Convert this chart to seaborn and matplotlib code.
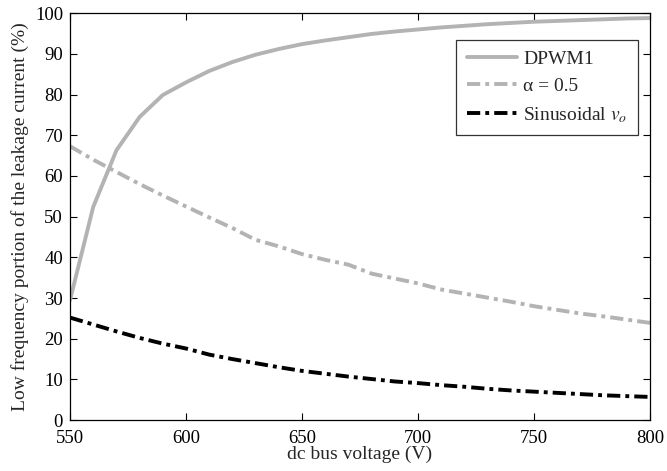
import matplotlib
matplotlib.use("Agg")
import matplotlib.pyplot as plt
import numpy as np
import seaborn as sns

# dc bus voltage samples (V)
voltage = [550, 560, 570, 580, 590, 600, 610, 620, 630, 640, 650, 660, 670,
           680, 690, 700, 710, 720, 730, 740, 750, 760, 770, 780, 790, 800]

# low-frequency portion of the leakage current (%)
dpwm1 = [29.5, 52.4, 66.3, 74.5, 79.9, 83.0, 85.8, 88.0, 89.8, 91.2, 92.4,
         93.3, 94.1, 94.9, 95.5, 96.0, 96.5, 96.9, 97.3, 97.6, 97.9, 98.1,
         98.3, 98.5, 98.7, 98.8]
alpha_05 = [67.3, 64.0, 61.0, 58.0, 55.2, 52.5, 49.8, 47.2, 44.3, 42.7, 40.8,
            39.4, 38.2, 36.0, 34.8, 33.6, 32.1, 31.1, 30.1, 29.1, 28.0, 27.1,
            26.2, 25.5, 24.7, 23.9]
sinusoidal = [25.2, 23.5, 21.8, 20.2, 18.8, 17.6, 16.1, 15.0, 14.0, 13.0, 12.1,
              11.4, 10.7, 10.1, 9.5, 9.1, 8.6, 8.2, 7.7, 7.3, 7.0, 6.7, 6.4,
              6.1, 5.9, 5.7]

sns.set_style("ticks")
plt.rcParams["font.family"] = ["Liberation Serif", "DejaVu Serif"]
plt.rcParams["mathtext.fontset"] = "stix"

fig = plt.figure(figsize=(6.67, 4.71), dpi=100)
ax = fig.add_axes([0.105, 0.108, 0.8695, 0.864])

gray = "#b3b3b3"
lw = 2.8
dashdot = [3.4, 1.3, 1.0, 1.3]

sns.lineplot(x=voltage, y=dpwm1, ax=ax, color=gray, lw=lw, label="DPWM1")
sns.lineplot(x=voltage, y=alpha_05, ax=ax, color=gray, lw=lw, label="α = 0.5")
sns.lineplot(x=voltage, y=sinusoidal, ax=ax, color="black", lw=lw,
             label="Sinusoidal $v_o$")
lines = ax.get_lines()
lines[1].set_dashes(dashdot)
lines[2].set_dashes(dashdot)

ax.set_xlim(550, 800)
ax.set_ylim(0, 100)
ax.set_xticks(np.arange(550, 801, 50))
ax.set_yticks(np.arange(0, 101, 10))
ax.tick_params(direction="in", top=True, right=True, length=5, width=0.8,
               labelsize=13.5, colors="black")
ax.tick_params(axis="x", pad=7)
ax.tick_params(axis="y", pad=5)
for s in ax.spines.values():
    s.set_linewidth(0.9)
    s.set_color("black")

ax.set_xlabel("dc bus voltage (V)", fontsize=14, labelpad=-1)
ax.set_ylabel("Low frequency portion of the leakage current (%)", fontsize=14,
              labelpad=4)

leg = ax.legend(loc="upper right", bbox_to_anchor=(0.9795, 0.935), fontsize=14,
                frameon=True, fancybox=False, edgecolor="black",
                handlelength=2.6, handletextpad=0.3, borderpad=0.55,
                labelspacing=0.5, borderaxespad=0.0)
leg.get_frame().set_linewidth(0.9)
leg_lines = leg.get_lines()
leg_lines[1].set_dashes(dashdot)
leg_lines[2].set_dashes(dashdot)

fig.savefig("out.png", dpi=100)
